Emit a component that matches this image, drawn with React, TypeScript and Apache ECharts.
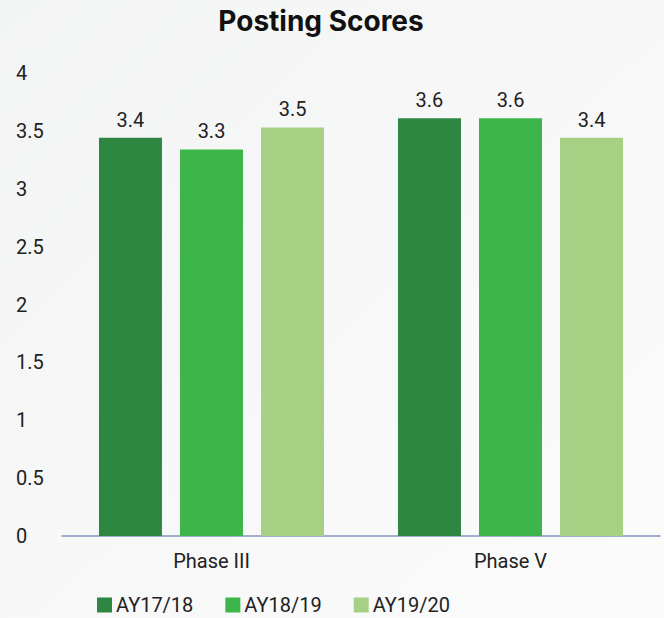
import React, { useEffect, useRef } from "react";
import * as echarts from "echarts";

const categories = ["Phase III", "Phase V"];
const seriesNames = ["AY17/18", "AY18/19", "AY19/20"];
const ay1718 = [3.44, 3.61];
const ay1819 = [3.34, 3.61];
const ay1920 = [3.53, 3.44];
const colors = ["#2e8741", "#3db54a", "#a6d185"];
const yTicks = [0, 0.5, 1, 1.5, 2, 2.5, 3, 3.5, 4];

export default function App() {
  const ref = useRef<HTMLDivElement>(null);
  useEffect(() => {
    if (!ref.current) return;
    const chart = echarts.init(ref.current, null, { renderer: "svg" });
    const data = [ay1718, ay1819, ay1920];
    chart.setOption({
      animation: false,
      backgroundColor: new echarts.graphic.LinearGradient(0, 0, 1, 1, [
        { offset: 0, color: "#f3f4f4" },
        { offset: 1, color: "#fbfbfb" },
      ]),
      title: {
        text: "Posting Scores",
        left: 316,
        textAlign: "center",
        top: 2,
        textStyle: { fontFamily: "Inter", fontWeight: "bold", fontSize: 28, color: "#111" },
      },
      legend: {
        left: 97,
        top: 595,
        padding: 0,
        itemWidth: 15,
        itemHeight: 15,
        itemGap: 32,
        icon: "rect",
        textStyle: { fontFamily: "Roboto", fontSize: 20, lineHeight: 20, color: "#222", padding: [0, 0, 0, -1] },
        data: seriesNames,
      },
      grid: { left: 62, right: 4, top: 73, bottom: 82 },
      xAxis: {
        type: "category",
        data: categories,
        axisLine: { lineStyle: { color: "#8795c0", width: 1.5 } },
        axisTick: { show: false },
        axisLabel: { fontFamily: "Roboto", fontSize: 20, color: "#222", margin: 15 },
      },
      yAxis: {
        type: "value",
        min: 0,
        max: 4,
        interval: 0.5,
        splitLine: { show: false },
        axisLine: { show: false },
        axisTick: { show: false },
        axisLabel: {
          fontFamily: "Roboto",
          fontSize: 20,
          color: "#222",
          align: "left",
          margin: 46,
          formatter: (v: number) => (yTicks.includes(v) ? String(v) : ""),
        },
      },
      series: seriesNames.map((name, i) => ({
        name,
        type: "bar",
        data: data[i],
        barWidth: 63,
        barGap: "28.6%",
        itemStyle: { color: colors[i] },
        label: {
          show: true,
          position: "top",
          distance: 8,
          fontFamily: "Roboto",
          fontSize: 20,
          color: "#222",
          formatter: (p: any) => p.value.toFixed(1),
        },
      })),
    });
    return () => chart.dispose();
  }, []);
  return <div ref={ref} style={{ width: 664, height: 618, position: "absolute", left: 0, top: 0 }} />;
}
